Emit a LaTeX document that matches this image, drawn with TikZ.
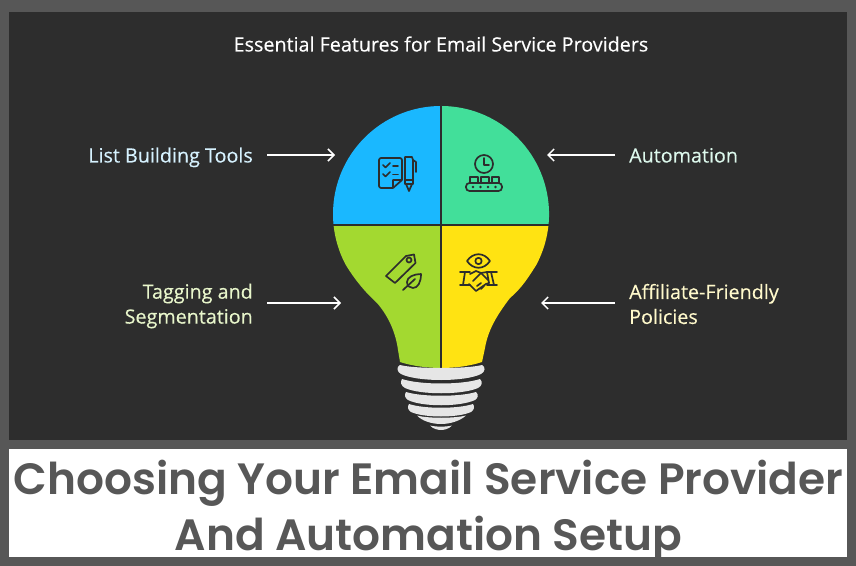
\documentclass[tikz,border=0pt]{standalone}
\usepackage{fontspec}
\setmainfont[FakeBold=0.25]{Open Sans}
\newfontfamily\titlefont{Poppins SemiBold}
\usetikzlibrary{arrows.meta}
\definecolor{frameC}{HTML}{575757}
\definecolor{panelC}{HTML}{2D2D2D}
\definecolor{blueC}{HTML}{1AB8FF}
\definecolor{greenC}{HTML}{42DF9A}
\definecolor{limeC}{HTML}{A3D930}
\definecolor{yellowC}{HTML}{FFE312}
\definecolor{baseC}{HTML}{E6E6E6}
\definecolor{iconD}{HTML}{2D2D2D}
\tikzset{
 x=1bp,y=-1bp,
 lbl/.style={inner sep=0pt,font=\fontsize{19.8}{25}\selectfont},
 ttl/.style={inner sep=0pt,text=frameC,font=\titlefont\fontsize{44}{56}\selectfont},
 arr/.style={draw=white,line width=1.5bp,-{Straight Barb[length=6bp,width=12bp,line width=1.5bp]}},
 ico/.style={draw=iconD,line width=1.7bp,line cap=round,line join=round},
 seam/.style={draw=panelC,line width=1.6bp},
 thread/.style={fill=baseC,draw=none}
}
\begin{document}
\begin{tikzpicture}
\useasboundingbox (0,0) rectangle (856,566);
\fill[frameC] (0,0) rectangle (856,566);
\fill[panelC] (9,12) rectangle (847,440);
\fill[white] (9,449) rectangle (847,557);
% bulb quadrants
\begin{scope}
\clip (441,106) arc[start angle=-90,end angle=-208,radius=108] .. controls (355,280) and (365,292) .. (377,303) .. controls (390,318) and (396,335) .. (398,350) -- (400,362) .. controls (412,366) and (428,368) .. (441,368) .. controls (455,368) and (470,366) .. (482,362) -- (485,348) .. controls (488,330) and (497,315) .. (510,298) .. controls (522,288) and (530,275) .. (536.4,264.7) arc[start angle=28,end angle=-90,radius=108] -- cycle;
\fill[blueC] (320,95) rectangle (441,225);
\fill[greenC] (441,95) rectangle (560,225);
\fill[limeC] (320,225) rectangle (441,375);
\fill[yellowC] (441,225) rectangle (560,375);
\end{scope}
\draw[seam] (441,106) -- (441,368);
\draw[seam] (333,225) -- (549,225);
% screw base
\fill[thread] (400,365) .. controls (415,369) and (467,369) .. (482,365) .. controls (486,367) and (485,372) .. (481,374) .. controls (465,382) and (417,382) .. (401,374) .. controls (397,372) and (396,367) .. (400,365) -- cycle;
\fill[thread] (402,379) .. controls (420,385) and (462,385) .. (480,379) .. controls (483,382) and (482,386) .. (478,388) .. controls (462,395) and (420,395) .. (405,388) .. controls (401,386) and (400,382) .. (402,379) -- cycle;
\fill[thread] (406,392) .. controls (422,397) and (460,397) .. (476,392) .. controls (479,395) and (478,398) .. (475,400) .. controls (460,407) and (422,407) .. (408,400) .. controls (405,398) and (404,395) .. (406,392) -- cycle;
\fill[thread] (409,404) .. controls (424,409) and (458,409) .. (473,404) .. controls (475,407) and (474,410) .. (471,412) .. controls (458,418) and (424,418) .. (411,412) .. controls (408,410) and (407,407) .. (409,404) -- cycle;
\fill[thread] (417,415.5) .. controls (428,418.5) and (454,418.5) .. (466,415.5) .. controls (460,421) and (450,424) .. (441,424) .. controls (432,424) and (422,421) .. (417,415.5) -- cycle;
\fill[thread] (430,425.5) .. controls (436,427) and (446,427) .. (452,425.5) .. controls (449,429) and (444,430) .. (441,430) .. controls (438,430) and (433,429) .. (430,425.5) -- cycle;
% checklist icon
\draw[ico] (393,188) -- (381,188) .. controls (380,188) and (379,187) .. (379,186) -- (379,160) .. controls (379,159) and (380,158) .. (381,158) -- (400,158) .. controls (401,158) and (402,159) .. (402,160) -- (402,180) -- (393,188) -- (393,180) -- (402,180);
\draw[ico] (383,165) -- (385.5,167.5) -- (390,163);
\draw[ico] (393,166) -- (398,166);
\draw[ico] (383,174) -- (385.5,176.5) -- (390,172);
\draw[ico] (393,174.5) -- (398,174.5);
\draw[ico] (405,157) -- (412,157) -- (413,160) -- (413,184) -- (405,184) -- cycle;
\draw[ico] (405,180) -- (413,180);
\draw[ico] (406,184) -- (409,191) -- (412,184);
\draw[ico] (413,160) -- (416,162) -- (416,172);
% automation icon
\draw[ico] (484,164) circle[radius=9];
\draw[ico] (484,158) -- (484,165) -- (489,165);
\draw[ico] (470,183) -- (470,177) -- (478,177) -- (478,183);
\draw[ico] (481,183) -- (481,177) -- (489,177) -- (489,183);
\draw[ico] (492,183) -- (492,177) -- (499,177) -- (499,183);
\draw[ico,rounded corners=3.5bp] (466,183) rectangle (502,191);
\fill[iconD] (473,187) circle[radius=1.4] (480.5,187) circle[radius=1.4] (488,187) circle[radius=1.4] (495.5,187) circle[radius=1.4];
% tag icon
\draw[ico] (386,276) -- (406,256) -- (414,254.5) -- (415.5,263) -- (395,283) -- cycle;
\draw[ico] (409,260) circle[radius=2.5];
\draw[ico,fill=limeC] (407,282) .. controls (407,277) and (414,274) .. (421,274) .. controls (421,282) and (418,288) .. (413,288) .. controls (410,288) and (407,286) .. (407,282) -- cycle;
\draw[ico] (403,290) -- (415,279);
% handshake icon
\draw[ico] (467,261) .. controls (473,252) and (484,252) .. (490,261) .. controls (484,270) and (473,270) .. (467,261) -- cycle;
\draw[ico] (478.5,261) circle[radius=3.2];
\draw[ico] (460,272) -- (470,272);
\draw[ico] (460,285) -- (470,285);
\draw[ico] (465,272) -- (463,285);
\draw[ico] (487,272) -- (497,272);
\draw[ico] (487,285) -- (497,285);
\draw[ico] (491,272) -- (494,285);
\draw[ico] (470,274) -- (476,271) -- (481,273) -- (487,272) -- (489,283);
\draw[ico] (469,284) -- (476,291) -- (486,284) -- (489,283);
\draw[ico] (473,281) -- (481,273) -- (488,280);
\draw[ico] (477,286) -- (481,283);
\draw[ico] (481,289) -- (484,286);
% title and labels
\node[lbl,text=white,anchor=base] (head) at (441,51.5) {Essential Features for Email Service Providers};
\node[lbl,text=blueC!18!white,anchor=base east] (listL) at (253,162.5) {List Building Tools};
\node[lbl,text=greenC!18!white,anchor=base west] (autoL) at (629,162.5) {Automation};
\node[lbl,text=limeC!25!white,anchor=east,align=right] (tagL) at (253,306) {Tagging and\\Segmentation};
\node[lbl,text=yellowC!22!white,anchor=west,align=left] (affL) at (629,304) {Affiliate-Friendly\\Policies};
\coordinate (listA) at (335,155);
\coordinate (autoA) at (547,155);
\coordinate (tagA) at (341,303);
\coordinate (affA) at (541,303);
\coordinate (listS) at (267,155);
\coordinate (autoS) at (615,155);
\coordinate (tagS) at (267,303);
\coordinate (affS) at (615,303);
\draw[arr] (listS) -- (listA);
\draw[arr] (autoS) -- (autoA);
\draw[arr] (tagS) -- (tagA);
\draw[arr] (affS) -- (affA);
\node[ttl,anchor=base] (t1) at (428.5,494) {Choosing Your Email Service Provider};
\node[ttl,anchor=base] (t2) at (428.5,550) {And Automation Setup};
\end{tikzpicture}
\end{document}
